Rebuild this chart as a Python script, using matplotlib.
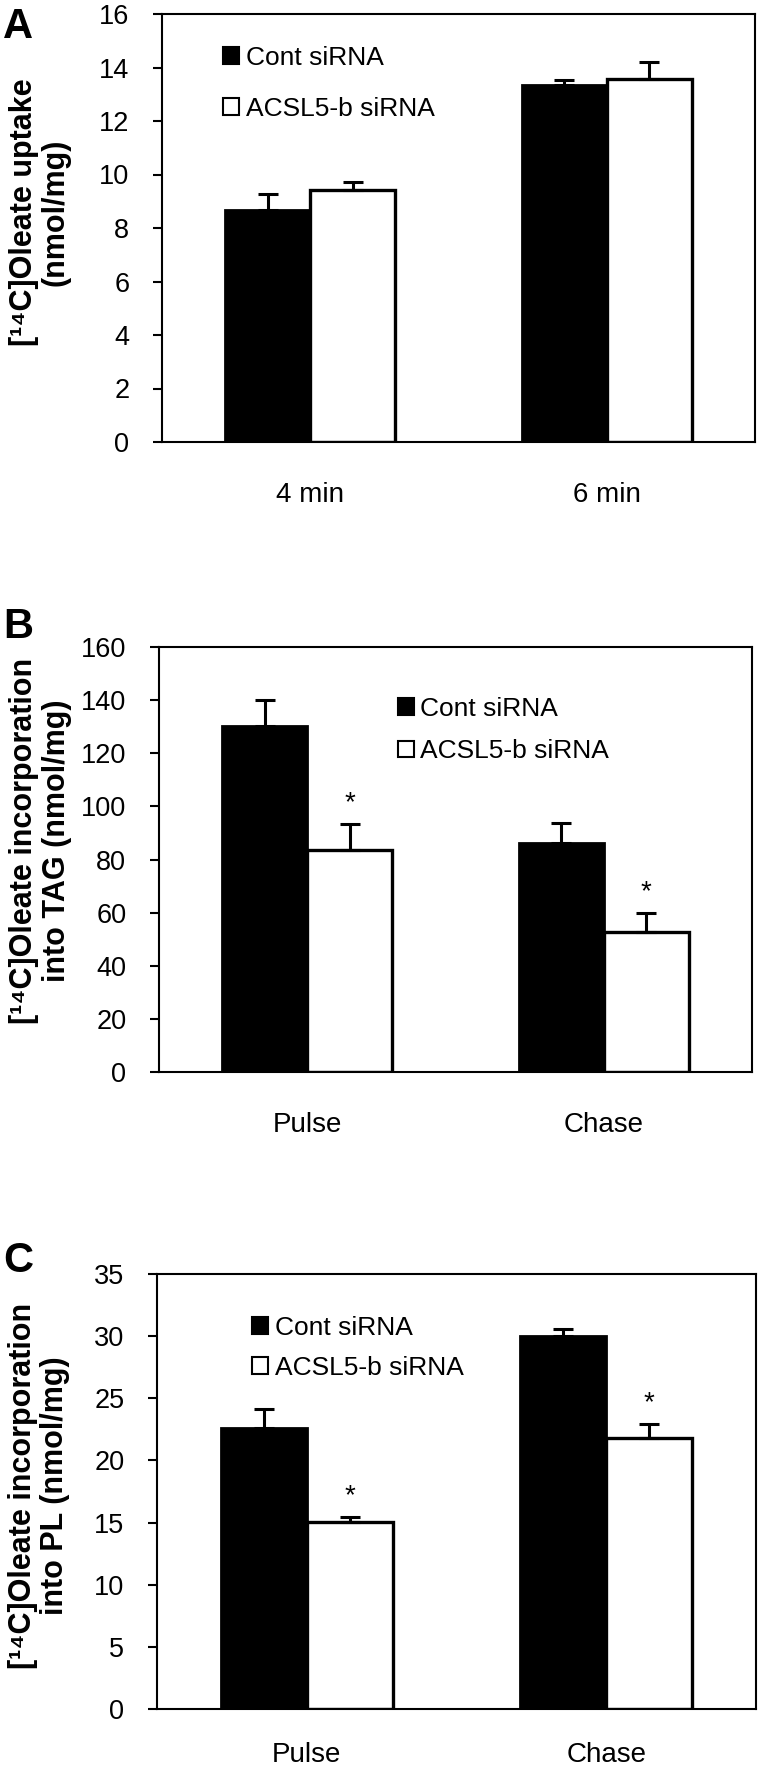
import matplotlib
matplotlib.use('Agg')
import matplotlib.pyplot as plt
import numpy as np
from matplotlib.patches import Patch

plt.rcParams['font.family'] = ['Liberation Sans', 'DejaVu Sans']

series_names = ['Cont siRNA', 'ACSL5-b siRNA']

# Panel A
a_cats = ['4 min', '6 min']
a_cont = [8.66, 13.33]
a_cont_err = [0.62, 0.21]
a_acsl = [9.43, 13.57]
a_acsl_err = [0.29, 0.65]
a_sig = [False, False]
a_ticks = [0, 2, 4, 6, 8, 10, 12, 14, 16]
a_ylabel = '[\u00b9\u2074C]Oleate uptake\n(nmol/mg)'

# Panel B
b_cats = ['Pulse', 'Chase']
b_cont = [130.1, 86.3]
b_cont_err = [9.8, 7.3]
b_acsl = [83.6, 52.8]
b_acsl_err = [9.6, 6.9]
b_sig = [True, True]
b_ticks = [0, 20, 40, 60, 80, 100, 120, 140, 160]
b_ylabel = '[\u00b9\u2074C]Oleate incorporation\ninto TAG (nmol/mg)'

# Panel C
c_cats = ['Pulse', 'Chase']
c_cont = [22.57, 30.0]
c_cont_err = [1.55, 0.58]
c_acsl = [15.03, 21.78]
c_acsl_err = [0.41, 1.14]
c_sig = [True, True]
c_ticks = [0, 5, 10, 15, 20, 25, 30, 35]
c_ylabel = '[\u00b9\u2074C]Oleate incorporation\ninto PL (nmol/mg)'

W, H = 759, 1771
fig = plt.figure(figsize=(W / 100, H / 100), dpi=100)


def fpos(left, top, right, bottom):
    return [left / W, 1 - bottom / H, (right - left) / W, (bottom - top) / H]


def panel(rect, cats, cont, cont_err, acsl, acsl_err, sig, ticks, ylabel,
          ylab_xy, leg_xy, leg_spacing, letter, letter_xy, xpad=29):
    ax = fig.add_axes(rect)
    x = np.arange(len(cats))
    w = 0.287
    ax.bar(x - w / 2, cont, w, color='black', edgecolor='black', linewidth=2, zorder=2)
    ax.bar(x + w / 2, acsl, w, color='white', edgecolor='black', linewidth=2.4, zorder=2)
    ax.errorbar(x - w / 2, cont, yerr=[np.zeros(len(cont)), cont_err], fmt='none',
                ecolor='black', elinewidth=2.2, capsize=7, capthick=2.2, zorder=3)
    ax.errorbar(x + w / 2, acsl, yerr=[np.zeros(len(acsl)), acsl_err], fmt='none',
                ecolor='black', elinewidth=2.2, capsize=7, capthick=2.2, zorder=3)
    for i, s in enumerate(sig):
        if s:
            ax.annotate('*', xy=(x[i] + w / 2, acsl[i] + acsl_err[i]), xytext=(0, 6),
                        textcoords='offset points', ha='center', va='bottom', fontsize=20)
    ax.set_xlim(-0.5, len(cats) - 0.5)
    ax.set_ylim(ticks[0], ticks[-1])
    ax.set_yticks(ticks)
    ax.set_yticklabels([str(t) for t in ticks])
    ax.set_xticks(x)
    ax.set_xticklabels(cats)
    ax.tick_params(axis='y', direction='out', length=6.5, width=1.5, pad=17, labelsize=19.5)
    ax.tick_params(axis='x', length=0, pad=xpad, labelsize=20)
    for sp in ax.spines.values():
        sp.set_linewidth(1.5)
        sp.set_color('black')
    ax.set_ylabel(ylabel, fontsize=22, fontweight='bold', linespacing=1.1, va='center')
    ax.yaxis.set_label_coords(*ylab_xy)
    handles = [Patch(facecolor='black', edgecolor='black', linewidth=1.5),
               Patch(facecolor='white', edgecolor='black', linewidth=1.5)]
    ax.legend(handles, series_names, loc='center left', bbox_to_anchor=leg_xy,
              frameon=False, fontsize=19, handlelength=0.6, handleheight=0.6,
              handletextpad=0.25, labelspacing=leg_spacing, borderpad=0, borderaxespad=0)
    fig.text(letter_xy[0] / W, 1 - letter_xy[1] / H, letter, fontsize=30,
             fontweight='bold', ha='left', va='baseline')
    return ax


panel(fpos(162, 14, 755, 442), a_cats, a_cont, a_cont_err, a_acsl, a_acsl_err, a_sig,
      a_ticks, a_ylabel, (-0.206, 0.537), (0.103, 0.838), 1.0, 'A', (3, 38))
panel(fpos(159, 647, 752, 1072), b_cats, b_cont, b_cont_err, b_acsl, b_acsl_err, b_sig,
      b_ticks, b_ylabel, (-0.2, 0.543), (0.403, 0.8045), 0.7, 'B', (3, 638))
panel(fpos(157, 1274, 756, 1709), c_cats, c_cont, c_cont_err, c_acsl, c_acsl_err, c_sig,
      c_ticks, c_ylabel, (-0.197, 0.513), (0.159, 0.83), 0.62, 'C', (3, 1272), xpad=24)

fig.savefig('out.png', dpi=100)
